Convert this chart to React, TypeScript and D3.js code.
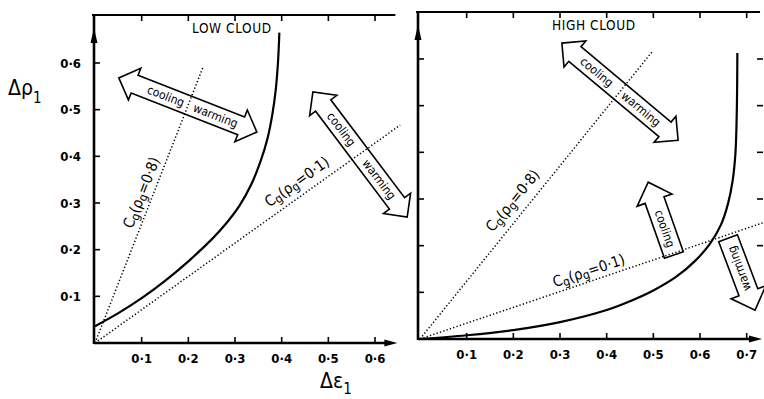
import React from "react";
import * as d3 from "d3";

// ---------- data ----------
const xTickValues = [0.1, 0.2, 0.3, 0.4, 0.5, 0.6, 0.7];
const xTickLabels = ["0·1", "0·2", "0·3", "0·4", "0·5", "0·6", "0·7"];
const yTickValues = [0.1, 0.2, 0.3, 0.4, 0.5, 0.6];
const yTickLabels = ["0·1", "0·2", "0·3", "0·4", "0·5", "0·6"];

// LOW CLOUD critical curve
const lowCurveX = [0, 0.05, 0.1, 0.15, 0.2, 0.25, 0.28, 0.31, 0.335, 0.355, 0.37, 0.38, 0.387, 0.392, 0.395];
const lowCurveY = [0.036, 0.064, 0.096, 0.133, 0.175, 0.222, 0.255, 0.295, 0.34, 0.39, 0.44, 0.49, 0.54, 0.6, 0.665];

// HIGH CLOUD critical curve
const highCurveX = [0, 0.1, 0.2, 0.3, 0.4, 0.45, 0.5, 0.55, 0.59, 0.62, 0.645, 0.66, 0.67, 0.676, 0.679, 0.68];
const highCurveY = [0, 0.008, 0.019, 0.036, 0.062, 0.081, 0.104, 0.134, 0.168, 0.202, 0.245, 0.29, 0.34, 0.4, 0.5, 0.613];

// Cg guide lines (from origin to end point) and label centres
const lowGuideRho = ["0·8", "0·1"];
const lowGuideEndX = [0.231, 0.654];
const lowGuideEndY = [0.59, 0.467];
const lowGuideLabelX = [0.1, 0.433];
const lowGuideLabelY = [0.322, 0.345];

const highGuideRho = ["0·8", "0·1"];
const highGuideEndX = [0.497, 0.735];
const highGuideEndY = [0.615, 0.249];
const highGuideLabelX = [0.199, 0.362];
const highGuideLabelY = [0.296, 0.146];

// double arrows: [x,y] end points (data units) and text positions (fraction along)
const lowArrows = [
  { a: [0.051, 0.568], b: [0.347, 0.452], t1: 0.34, t2: 0.7 },
  { a: [0.467, 0.538], b: [0.669, 0.27], t1: 0.3, t2: 0.7 },
];
const highArrows = [{ a: [0.304, 0.634], b: [0.553, 0.426], t1: 0.3, t2: 0.68 }];
// single arrows: base -> tip
const highSingles = [
  { base: [0.544, 0.18], tip: [0.489, 0.336], label: "cooling", t: 0.36 },
  { base: [0.66, 0.216], tip: [0.718, 0.062], label: "warming", t: 0.42 },
];

const K = 466.7;
const FONT = "'DejaVu Sans Condensed', 'Liberation Sans Narrow', 'DejaVu Sans', sans-serif";

function doubleArrowPath(ax: number, ay: number, bx: number, by: number, w: number, hw: number, hl: number) {
  const dx = bx - ax, dy = by - ay, L = Math.hypot(dx, dy);
  const ux = dx / L, uy = dy / L, nx = -uy, ny = ux;
  const P = (t: number, s: number) => [ax + ux * t + nx * s, ay + uy * t + ny * s];
  const pts = [P(0, 0), P(hl, hw), P(hl, w), P(L - hl, w), P(L - hl, hw), P(L, 0), P(L - hl, -hw), P(L - hl, -w), P(hl, -w), P(hl, -hw)];
  return "M" + pts.map((p) => p[0].toFixed(1) + "," + p[1].toFixed(1)).join("L") + "Z";
}
function singleArrowPath(ax: number, ay: number, bx: number, by: number, w: number, hw: number, hl: number) {
  const dx = bx - ax, dy = by - ay, L = Math.hypot(dx, dy);
  const ux = dx / L, uy = dy / L, nx = -uy, ny = ux;
  const P = (t: number, s: number) => [ax + ux * t + nx * s, ay + uy * t + ny * s];
  const pts = [P(0, w), P(L - hl, w), P(L - hl, hw), P(L, 0), P(L - hl, -hw), P(L - hl, -w), P(0, -w)];
  return "M" + pts.map((p) => p[0].toFixed(1) + "," + p[1].toFixed(1)).join("L") + "Z";
}

function CgLabel({ x, y, angle, rho }: { x: number; y: number; angle: number; rho: string }) {
  return (
    <text transform={`translate(${x},${y}) rotate(${angle})`} textAnchor="middle" dominantBaseline="middle" fontFamily={FONT} fontSize={15}>
      C<tspan dy={3} fontSize={12}>g</tspan>
      <tspan dy={-3}>(ρ</tspan>
      <tspan dy={3} fontSize={12}>g</tspan>
      <tspan dy={-3}>={rho})</tspan>
    </text>
  );
}

function Panel({ x0, y0, xMax, topY, curveX, curveY, guideRho, guideEndX, guideEndY, labelX, labelY, arrows, singles, title, titleX, showYLabels, rightTicks, leftX }: any) {
  const xs = d3.scaleLinear().domain([0, xMax]).range([x0, x0 + xMax * K]);
  const ys = d3.scaleLinear().domain([0, 0.7]).range([y0, y0 - 0.7 * K]);
  const pts = curveX.map((v: number, i: number) => [xs(v), ys(curveY[i])] as [number, number]);
  const line = d3.line().curve(d3.curveCatmullRom.alpha(0.5))(pts) as string;
  const axEnd = xs(xMax);
  const xTicks = xTickValues.filter((v) => v < xMax - 0.01);
  return (
    <g>
      {/* top border */}
      <line x1={leftX - 2} x2={axEnd - 3} y1={topY} y2={topY} stroke="#000" strokeWidth={2.2} />
      {xTicks.map((v) => (
        <line key={"tt" + v} x1={xs(v)} x2={xs(v)} y1={topY} y2={topY + 6} stroke="#000" strokeWidth={1.6} />
      ))}
      {/* y axis */}
      <line x1={leftX} x2={leftX} y1={topY} y2={y0 + 1} stroke="#000" strokeWidth={2.6} />
      <path d={`M${leftX},${topY + 13}L${leftX - 3.5},${topY + 28}L${leftX + 3.5},${topY + 28}Z`} fill="#000" />
      {yTickValues.map((v, i) => (
        <g key={"yt" + v}>
          <line x1={leftX} x2={leftX + 6} y1={ys(v)} y2={ys(v)} stroke="#000" strokeWidth={1.6} />
          {showYLabels && (
            <text x={leftX - 13} y={ys(v)} dy="0.36em" textAnchor="end" fontFamily={FONT} fontWeight="bold" fontSize={13}>
              {yTickLabels[i]}
            </text>
          )}
        </g>
      ))}
      {rightTicks &&
        yTickValues
          .filter((v) => v >= 0.2)
          .map((v) => <line key={"rt" + v} x1={axEnd - 6} x2={axEnd} y1={ys(v)} y2={ys(v)} stroke="#000" strokeWidth={1.6} />)}
      {/* x axis */}
      <line x1={leftX} x2={axEnd - 8} y1={y0} y2={y0} stroke="#000" strokeWidth={2.6} />
      <path d={`M${axEnd - 1},${y0}L${axEnd - 14},${y0 - 3.5}L${axEnd - 14},${y0 + 3.5}Z`} fill="#000" />
      {xTicks.map((v) => (
        <g key={"xt" + v}>
          <line x1={xs(v)} x2={xs(v)} y1={y0} y2={y0 - 6} stroke="#000" strokeWidth={1.6} />
          <text x={xs(v)} y={y0 + 20} textAnchor="middle" fontFamily={FONT} fontWeight="bold" fontSize={13}>
            {xTickLabels[xTickValues.indexOf(v)]}
          </text>
        </g>
      ))}
      {/* title */}
      <text x={titleX} y={topY + 18} fontFamily={FONT} fontSize={13.5} letterSpacing={0.6}>
        {title}
      </text>
      {/* arrows */}
      {arrows.map((a: any, i: number) => {
        const ax = xs(a.a[0]), ay = ys(a.a[1]), bx = xs(a.b[0]), by = ys(a.b[1]);
        const ang = (Math.atan2(by - ay, bx - ax) * 180) / Math.PI;
        const P = (t: number) => [ax + (bx - ax) * t, ay + (by - ay) * t];
        const c = P(a.t1), w = P(a.t2);
        return (
          <g key={"ar" + i}>
            <path d={doubleArrowPath(ax, ay, bx, by, 9.5, 17, 17)} fill="#fff" stroke="#000" strokeWidth={1.6} strokeLinejoin="miter" />
            <text transform={`translate(${c[0]},${c[1]}) rotate(${ang})`} textAnchor="middle" dy="0.33em" fontFamily={FONT} fontSize={12}>cooling</text>
            <text transform={`translate(${w[0]},${w[1]}) rotate(${ang})`} textAnchor="middle" dy="0.33em" fontFamily={FONT} fontSize={12}>warming</text>
          </g>
        );
      })}
      {singles.map((s: any, i: number) => {
        const ax = xs(s.base[0]), ay = ys(s.base[1]), bx = xs(s.tip[0]), by = ys(s.tip[1]);
        const dir = (Math.atan2(by - ay, bx - ax) * 180) / Math.PI;
        const tx = ax + (bx - ax) * s.t, ty = ay + (by - ay) * s.t;
        return (
          <g key={"sa" + i}>
            <path d={singleArrowPath(ax, ay, bx, by, 10, 18.5, 19)} fill="#fff" stroke="#000" strokeWidth={1.6} />
            <text transform={`translate(${tx},${ty}) rotate(${dir + 180})`} textAnchor="middle" dy="0.33em" fontFamily={FONT} fontSize={12}>
              {s.label}
            </text>
          </g>
        );
      })}
      {/* guide dotted lines */}
      {guideRho.map((r: string, i: number) => {
        const ex = xs(guideEndX[i]), ey = ys(guideEndY[i]);
        const ang = (Math.atan2(ey - y0, ex - x0) * 180) / Math.PI;
        return (
          <g key={"g" + i}>
            <line x1={x0} y1={y0} x2={ex} y2={ey} stroke="#000" strokeWidth={1.5} strokeDasharray="1.3,2.2" />
            <CgLabel x={xs(labelX[i])} y={ys(labelY[i])} angle={ang} rho={r} />
          </g>
        );
      })}
      {/* critical curve */}
      <path d={line} fill="none" stroke="#000" strokeWidth={2.2} />
    </g>
  );
}

export default function App() {
  return (
    <svg width={764} height={399} viewBox="0 0 764 399" style={{ display: "block", position: "absolute", left: 0, top: 0, background: "#fff" }}>
      <rect width={764} height={399} fill="#fff" />
      <Panel
        x0={95} y0={343} xMax={0.65} topY={15} leftX={94}
        curveX={lowCurveX} curveY={lowCurveY}
        guideRho={lowGuideRho} guideEndX={lowGuideEndX} guideEndY={lowGuideEndY}
        labelX={lowGuideLabelX} labelY={lowGuideLabelY}
        arrows={lowArrows} singles={[]} title="LOW CLOUD" titleX={192} showYLabels={true} rightTicks={false}
      />
      <Panel
        x0={420} y0={339} xMax={0.735} topY={12} leftX={418}
        curveX={highCurveX} curveY={highCurveY}
        guideRho={highGuideRho} guideEndX={highGuideEndX} guideEndY={highGuideEndY}
        labelX={highGuideLabelX} labelY={highGuideLabelY}
        arrows={highArrows} singles={highSingles} title="HIGH CLOUD" titleX={552} showYLabels={false} rightTicks={true}
      />
      {/* axis labels */}
      <text x={8} y={95} fontFamily={FONT} fontSize={21}>
        Δρ<tspan dy={8} fontSize={15}>1</tspan>
      </text>
      <text x={320} y={388} fontFamily={FONT} fontSize={21}>
        Δε<tspan dy={6} fontSize={15}>1</tspan>
      </text>
    </svg>
  );
}
